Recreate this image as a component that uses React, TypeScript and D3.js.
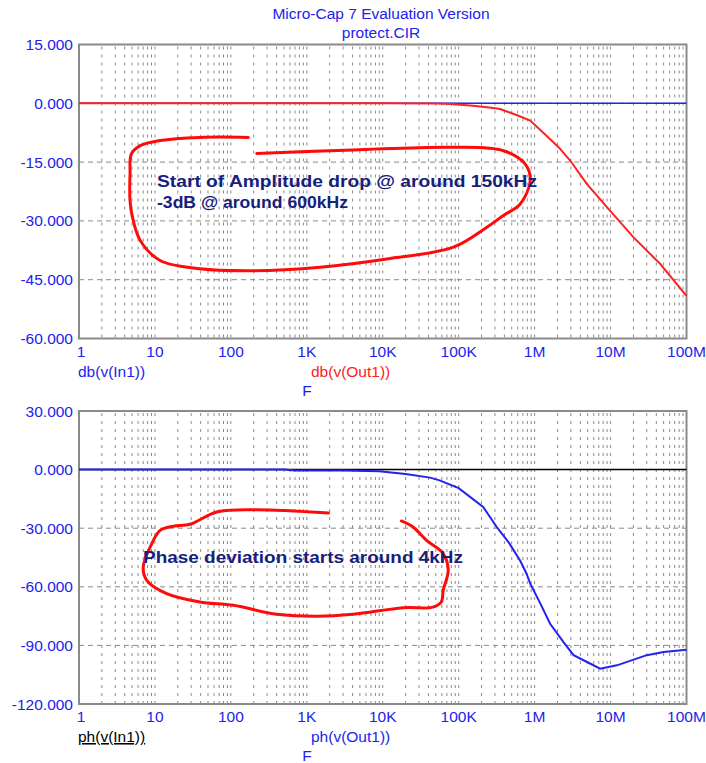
import React from "react";
import * as d3 from "d3";

// ---- data ----
const decadeTicks = [1, 10, 100, 1e3, 1e4, 1e5, 1e6, 1e7, 1e8];
const decadeLabels = ["1", "10", "100", "1K", "10K", "100K", "1M", "10M", "100M"];

const magTicks = [15, 0, -15, -30, -45, -60];
const phaseTicks = [30, 0, -30, -60, -90, -120];

// db(v(In1)) and ph(v(In1)) stay flat at 0
const inFreq = [1, 1e8];
const magIn = [0, 0];
const phIn = [0, 0];

// db(v(Out1))
const magFreq = [1, 1e3, 1e4, 5e4, 8e4, 1.55e5, 2.85e5, 3.5e5, 6e5, 8.75e5, 1.3e6, 2.07e6, 2.94e6, 4.89e6, 8.96e6, 2.01e7, 4.52e7, 1e8];
const magOut = [0, 0, 0, -0.05, -0.2, -0.6, -1.2, -1.45, -3.1, -4.4, -7.5, -11.2, -14.6, -20.6, -26.5, -34.2, -41, -49.1];

// ph(v(Out1))
const phFreq = [1, 500, 700, 3e3, 9e3, 2e4, 4.2e4, 5.6e4, 1e5, 2.1e5, 3.17e5, 4.6e5, 6.46e5, 7.8e5, 8.75e5, 1.19e6, 1.6e6, 2.4e6, 3.26e6, 4.9e6, 7.3e6, 1.21e7, 3e7, 5e7, 1e8];
const phOut = [0, 0, -0.4, -0.5, -0.8, -2.2, -4.1, -5.5, -9.5, -19.1, -29.4, -37.5, -46.7, -53.2, -58.4, -68.6, -78.9, -88.3, -95, -98.5, -101.9, -100.2, -95, -93.4, -92.2];

// hand drawn red loops, in (frequency, value) units
const magLoop: [number, number][] = [
  [170, -8.7], [39, -8.7], [11.7, -9.5], [6.4, -10.8], [4.9, -12.9], [4.7, -18], [4.7, -24.8],
  [5.0, -28.6], [6.4, -35], [11.7, -40.1], [39, -42.2], [198, -42.7], [1500, -41.8], [11300, -39.7],
  [85000, -36.7], [235000, -31.6], [389000, -28.6], [646000, -25.7], [875000, -19.7], [752000, -15.5],
  [389000, -12.1], [85000, -11.2], [4100, -11.9], [219, -12.8],
];
const phaseLoop: [number, number][] = [
  [1930, -22.2], [198, -20.5], [65, -21.7], [29, -28], [17.5, -29], [11.7, -31.1], [9.1, -37.9],
  [7.0, -49.9], [7.8, -56.7], [14.3, -63.5], [39, -67.8], [108, -69.5], [403, -74.1], [1355, -75.1],
  [4070, -74.1], [18600, -70.7], [46000, -70.4], [59000, -67.8], [62500, -61.8], [72800, -51.5],
  [62500, -43], [37700, -36.2], [25000, -29.4], [17600, -26.3],
];

const magNote = ["Start of Amplitude drop @ around 150kHz", "-3dB @ around 600kHz"];
const phaseNote = "Phase deviation starts around 4kHz";

const W = 706;
const H = 763;
const left = 79;
const right = 686.5;

const font = "'Liberation Sans', Arial, sans-serif";
const fs = 15.5;
const blue = "#2222ee";
const grey = "#8a8a8a";

const x = d3.scaleLog().domain([1, 1e8]).range([left, right]);

const minorTicks: number[] = [];
decadeTicks.slice(0, -1).forEach((d) => {
  for (let k = 2; k <= 10; k++) minorTicks.push(d * k);
});

function series(fr: number[], vs: number[]) {
  return fr.map((f, i) => [f, vs[i]] as [number, number]);
}

interface PlotProps {
  top: number;
  bottom: number;
  ticks: number[];
  inVals: number[];
  outFreq: number[];
  outVals: number[];
  inColor: string;
  outColor: string;
  loop: [number, number][];
}

function Plot({ top, bottom, ticks, inVals, outFreq, outVals, inColor, outColor, loop }: PlotProps) {
  const y = d3
    .scaleLinear()
    .domain([ticks[ticks.length - 1], ticks[0]])
    .range([bottom, top]);

  const line = d3
    .line<[number, number]>()
    .x((d) => x(d[0]))
    .y((d) => y(d[1]));

  const loopLine = d3
    .line<[number, number]>()
    .x((d) => x(d[0]))
    .y((d) => y(d[1]))
    .curve(d3.curveCatmullRom.alpha(0.5));

  return (
    <g>
      {/* vertical minor/decade grid */}
      {minorTicks.map((t) => (
        <line
          key={"v" + t}
          x1={x(t)}
          x2={x(t)}
          y1={top + 2}
          y2={bottom}
          stroke={grey}
          strokeWidth={1}
          strokeDasharray="3,5"
        />
      ))}
      {/* horizontal grid */}
      {ticks.slice(1, -1).map((t) => (
        <line
          key={"h" + t}
          x1={left}
          x2={right}
          y1={y(t)}
          y2={y(t)}
          stroke={grey}
          strokeWidth={1}
          strokeDasharray="5,4"
        />
      ))}
      <rect x={left} y={top} width={right - left} height={bottom - top} fill="none" stroke={grey} strokeWidth={2} />

      {/* y tick labels */}
      {ticks.map((t) => (
        <text
          key={"yl" + t}
          x={73}
          y={y(t)}
          dy="0.36em"
          textAnchor="end"
          fill={blue}
          fontSize={fs}
          fontFamily={font}
        >
          {t.toFixed(3)}
        </text>
      ))}
      {/* x tick labels */}
      {decadeTicks.map((t, i) => (
        <text
          key={"xl" + t}
          x={x(t) + (i === 0 ? 2 : 0)}
          y={bottom + 18}
          textAnchor="middle"
          fill={blue}
          fontSize={fs}
          fontFamily={font}
        >
          {decadeLabels[i]}
        </text>
      ))}

      {/* traces: In1 underneath, Out1 on top */}
      <path d={line(series(inFreq, inVals)) || ""} fill="none" stroke={inColor} strokeWidth={1.5} />
      <path d={line(series(outFreq, outVals)) || ""} fill="none" stroke={outColor} strokeWidth={2} />

      {/* hand drawn loop */}
      <path d={loopLine(loop) || ""} fill="none" stroke="#ff0a0a" strokeWidth={3} strokeLinecap="round" />
    </g>
  );
}

export default function App() {
  const noteColor = "#16207a";
  return (
    <div style={{ position: "absolute", left: 0, top: 0 }}>
      <svg width={W} height={H} style={{ display: "block", background: "#fff" }}>
        <text x={381} y={19} textAnchor="middle" fill={blue} fontSize={fs} fontFamily={font}>
          Micro-Cap 7 Evaluation Version
        </text>
        <text x={381} y={38} textAnchor="middle" fill={blue} fontSize={fs} fontFamily={font}>
          protect.CIR
        </text>

        <Plot
          top={44.5}
          bottom={338.5}
          ticks={magTicks}
          inVals={magIn}
          outFreq={magFreq}
          outVals={magOut}
          inColor={blue}
          outColor="#ff2020"
          loop={magLoop}
        />
        <text x={78} y={377} fill={blue} fontSize={fs} fontFamily={font}>db(v(In1))</text>
        <text x={311} y={377} fill="#ff2020" fontSize={fs} fontFamily={font}>db(v(Out1))</text>
        <text x={307} y={396} textAnchor="middle" fill={blue} fontSize={fs} fontFamily={font}>F</text>

        <text x={157} y={187} fill={noteColor} fontSize={17} fontWeight="bold" fontFamily={font}
          textLength={380} lengthAdjust="spacingAndGlyphs">
          {magNote[0]}
        </text>
        <text x={157} y={208} fill={noteColor} fontSize={17} fontWeight="bold" fontFamily={font}
          textLength={191} lengthAdjust="spacingAndGlyphs">
          {magNote[1]}
        </text>

        <Plot
          top={411}
          bottom={704}
          ticks={phaseTicks}
          inVals={phIn}
          outFreq={phFreq}
          outVals={phOut}
          inColor="#000"
          outColor={blue}
          loop={phaseLoop}
        />
        <text x={78} y={742} fill="#000" fontSize={fs} fontFamily={font} textDecoration="underline">
          ph(v(In1))
        </text>
        <text x={311} y={742} fill={blue} fontSize={fs} fontFamily={font}>ph(v(Out1))</text>
        <text x={307} y={761} textAnchor="middle" fill={blue} fontSize={fs} fontFamily={font}>F</text>

        <text x={143} y={563} fill={noteColor} fontSize={17} fontWeight="bold" fontFamily={font}
          textLength={320} lengthAdjust="spacingAndGlyphs">
          {phaseNote}
        </text>
      </svg>
    </div>
  );
}
